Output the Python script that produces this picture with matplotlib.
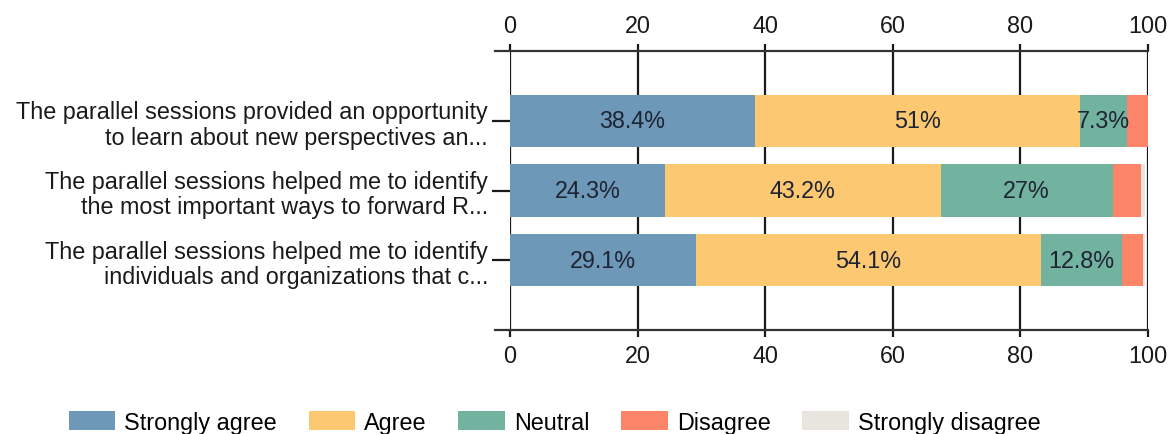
import numpy as np
import matplotlib.pyplot as plt
from matplotlib.lines import Line2D

plt.rcParams['font.family'] = ['Liberation Sans', 'DejaVu Sans']

# ── data ──
questions = [
    "The parallel sessions provided an opportunity\nto learn about new perspectives an...",
    "The parallel sessions helped me to identify\nthe most important ways to forward R...",
    "The parallel sessions helped me to identify\nindividuals and organizations that c...",
]
categories = ["Strongly agree", "Agree", "Neutral", "Disagree", "Strongly disagree"]
strongly_agree = [38.4, 24.3, 29.1]
agree = [51.0, 43.2, 54.1]
neutral = [7.3, 27.0, 12.8]
disagree = [3.3, 4.5, 3.2]
strongly_disagree = [0.0, 0.5, 0.3]
ticks = [0, 20, 40, 60, 80, 100]

colors = ["#6d98b8", "#fdc872", "#72b3a0", "#fc8469", "#e8e5df"]
series = [strongly_agree, agree, neutral, disagree, strongly_disagree]
FS = 16.8

fig = plt.figure(figsize=(11.7, 4.35), dpi=100)
ax = fig.add_axes([0.436, 0.239, 0.545, 0.641])

y = np.arange(len(questions))
left = np.zeros(len(questions))
for vals, col, name in zip(series, colors, categories):
    vals = np.array(vals)
    ax.barh(y, vals, left=left, height=0.75, color=col, label=name, zorder=3)
    for yi, (l, v) in enumerate(zip(left, vals)):
        if v >= 5:
            ax.text(l + v / 2, yi, f"{v:g}%", ha="center", va="center",
                    fontsize=FS, color="#1e2433", zorder=4)
    left += vals

ax.set_xlim(0, 100)
ax.set_ylim(3, -1)
ax.set_xticks(ticks)
ax.set_yticks(y)
ax.set_yticklabels(questions, fontsize=FS, color="#1a1a1a", linespacing=1.12)

for t in ticks:
    ax.axvline(t, color="#1a1a1a", lw=1.6, zorder=2)

for s in ["left", "right"]:
    ax.spines[s].set_visible(False)
for s in ["top", "bottom"]:
    ax.spines[s].set_color("#333333")
    ax.spines[s].set_linewidth(1.6)

# axis lines reach a little past zero on the left
for yy in (0, 1):
    ax.add_line(Line2D([-0.024, 0], [yy, yy], transform=ax.transAxes,
                       color="#333333", lw=1.6, clip_on=False))

ax.tick_params(axis="x", top=True, labeltop=True, bottom=True, labelbottom=True,
               length=5, width=1.6, color="#1a1a1a", labelsize=FS,
               labelcolor="#1a1a1a", pad=5)
ax.tick_params(axis="y", length=13, width=1.6, color="#1a1a1a", pad=3)

fig.legend(loc="center", bbox_to_anchor=(0.474, 0.027), ncol=5, frameon=False,
           fontsize=FS, handlelength=2.0, handleheight=0.85,
           handletextpad=0.38, columnspacing=1.36)

fig.savefig("out.png", dpi=100)
